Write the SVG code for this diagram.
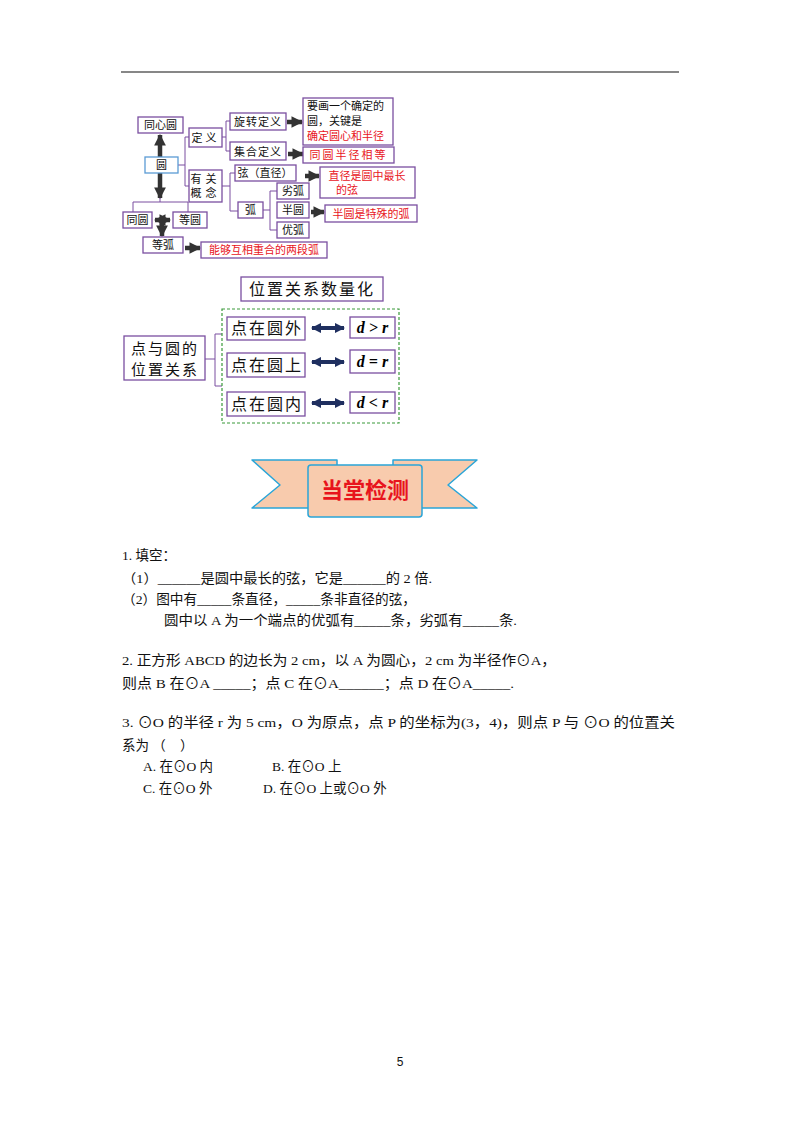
<svg xmlns="http://www.w3.org/2000/svg" width="800" height="1132" viewBox="0 0 800 1132">
<defs>
<marker id="ah" viewBox="0 0 10 10" refX="9" refY="5" markerWidth="2.6" markerHeight="2.6" orient="auto-start-reverse"><path d="M0,0 L10,5 L0,10 z" fill="#333"/></marker>
<marker id="nv" viewBox="0 0 10 10" refX="9" refY="5" markerWidth="2.6" markerHeight="2.6" orient="auto-start-reverse"><path d="M0,0 L10,5 L0,10 z" fill="#1f2f5f"/></marker>
<style>
.b{fill:#fff;stroke:#7a4fa0;stroke-width:1.3}
.t{font-family:"Noto Sans CJK SC",sans-serif;font-size:11px;fill:#111}
.r{fill:#e8141c}
.a{stroke:#333;stroke-width:4.5;fill:none;marker-end:url(#ah)}
.br{stroke:#7a4fa0;stroke-width:1;fill:none}
.big{font-family:"Noto Sans CJK SC",sans-serif;font-size:16px;fill:#111;letter-spacing:2px}
.nav{stroke:#1f2f5f;stroke-width:4;fill:none;marker-start:url(#nv);marker-end:url(#nv)}
.m{font-family:"Liberation Serif",serif;font-style:italic;font-weight:bold;font-size:16px}
.p{font-family:"Liberation Serif","Noto Sans CJK SC",serif;font-size:13.5px;fill:#111}
</style>
</defs>
<line x1="121" y1="72" x2="679" y2="72" stroke="#111" stroke-width="1.2"/>
<g id="connectors">
<path class="a" d="M160,157 V135"/>
<path class="a" d="M160,173 V198"/>
<path class="br" d="M178,165 H185 M185,137 V186 M185,137 H189 M185,186 H189"/>
<path class="br" d="M222,137 H226 M226,121 V151 M226,121 H230 M226,151 H230"/>
<path class="br" d="M222,186 H230 M230,173 V211 M230,173 H235 M230,211 H238"/>
<path class="br" d="M263,210 H270 M270,191 V230 M270,191 H277 M270,230 H277"/>
<path class="br" d="M133,212 V202 H188 V212 M160,198 V202"/>
<path class="a" d="M287,122 H302"/>
<path class="a" d="M288,154 H303"/>
<path class="a" d="M305,176 H319"/>
<path class="a" d="M311,212 H324"/>
<path class="a" d="M185,248 H200"/>
<path class="a" d="M155,220 H170" style="marker-start:url(#ah)"/>
<path class="a" d="M162,221 V236"/>
<path class="br" d="M205,359 H215 M215,334 V386 M215,334 H222 M215,386 H222"/>
<path class="nav" d="M312,328 H344"/>
<path class="nav" d="M312,362 H344"/>
<path class="nav" d="M312,403 H344"/>
</g>
<g id="n-txy"><rect class="b" x="138" y="117" width="45" height="16"/><text class="t" x="160.5" y="129" text-anchor="middle">同心圆</text></g>
<g id="n-yuan"><rect x="145" y="157" width="33" height="16" fill="#fff" stroke="#5b9bd5" stroke-width="1.3"/><text class="t" x="161.5" y="169" text-anchor="middle">圆</text></g>
<g id="n-dy"><rect class="b" x="189" y="128" width="33" height="19"/><text class="t" x="205.5" y="141.5" text-anchor="middle" letter-spacing="3">定义</text></g>
<g id="n-ygn"><rect class="b" x="189" y="170" width="33" height="32"/><text class="t" x="205.5" y="183" text-anchor="middle" letter-spacing="4">有关</text><text class="t" x="205.5" y="197" text-anchor="middle" letter-spacing="4">概念</text></g>
<g id="n-xz"><rect class="b" x="230" y="113" width="56" height="17"/><text class="t" x="258" y="126" text-anchor="middle" letter-spacing="1">旋转定义</text></g>
<g id="n-jh"><rect class="b" x="230" y="142" width="56" height="18"/><text class="t" x="258" y="155.5" text-anchor="middle" letter-spacing="1">集合定义</text></g>
<g id="n-yh"><rect class="b" x="303" y="98" width="90" height="47"/><text class="t" x="307" y="110">要画一个确定的</text><text class="t" x="307" y="125">圆，关键是</text><text class="t r" x="307" y="140">确定圆心和半径</text></g>
<g id="n-ty"><rect class="b" x="303" y="147" width="91" height="16"/><text class="t r" x="348.5" y="159" text-anchor="middle" letter-spacing="2">同圆半径相等</text></g>
<g id="n-xian"><rect class="b" x="235" y="165" width="61" height="16"/><text class="t" x="265" y="177" text-anchor="middle">弦（直径）</text></g>
<g id="n-zj"><rect class="b" x="320" y="167" width="95" height="31"/><text class="t r" x="367" y="180" text-anchor="middle">直径是圆中最长</text><text class="t r" x="336" y="194">的弦</text></g>
<g id="n-hu"><rect class="b" x="238" y="202" width="25" height="16"/><text class="t" x="250.5" y="214" text-anchor="middle">弧</text></g>
<g id="n-lh"><rect class="b" x="277" y="183" width="32" height="16"/><text class="t" x="293" y="195" text-anchor="middle">劣弧</text></g>
<g id="n-by"><rect class="b" x="277" y="202" width="32" height="16"/><text class="t" x="293" y="214" text-anchor="middle">半圆</text></g>
<g id="n-yhu"><rect class="b" x="277" y="222" width="32" height="16"/><text class="t" x="293" y="234" text-anchor="middle">优弧</text></g>
<g id="n-bys"><rect class="b" x="325" y="205" width="92" height="17"/><text class="t r" x="371" y="217.5" text-anchor="middle">半圆是特殊的弧</text></g>
<g id="n-ty2"><rect class="b" x="123" y="212" width="29" height="16"/><text class="t" x="137.5" y="224" text-anchor="middle">同圆</text></g>
<g id="n-dy2"><rect class="b" x="173" y="212" width="34" height="16"/><text class="t" x="190" y="224" text-anchor="middle">等圆</text></g>
<g id="n-dh"><rect class="b" x="143" y="237" width="40" height="16"/><text class="t" x="163" y="249" text-anchor="middle">等弧</text></g>
<g id="n-ng"><rect class="b" x="201" y="242" width="126" height="16"/><text class="t r" x="264" y="254" text-anchor="middle">能够互相重合的两段弧</text></g>
<g id="n-wz"><rect class="b" x="241" y="277" width="142" height="24"/><text class="big" x="312" y="295" text-anchor="middle">位置关系数量化</text></g>
<rect x="222" y="309" width="177" height="114" fill="none" stroke="#3a9a3a" stroke-width="1.2" stroke-dasharray="3,2"/>
<g id="n-dyy"><rect class="b" x="124" y="336" width="81" height="44"/><text class="big" style="font-size:15px" x="165" y="354" text-anchor="middle">点与圆的</text><text class="big" style="font-size:15px" x="165" y="375" text-anchor="middle">位置关系</text></g>
<g id="n-w"><rect class="b" x="227" y="317" width="78" height="23"/><text class="big" x="267" y="334" text-anchor="middle">点在圆外</text></g>
<g id="n-s"><rect class="b" x="227" y="353" width="78" height="24"/><text class="big" x="267" y="371" text-anchor="middle">点在圆上</text></g>
<g id="n-n"><rect class="b" x="227" y="392" width="78" height="24"/><text class="big" x="267" y="410" text-anchor="middle">点在圆内</text></g>
<g id="n-gt"><rect class="b" x="350" y="317" width="45" height="21"/><text class="m" x="372.5" y="333" text-anchor="middle">d &gt; r</text></g>
<g id="n-eq"><rect class="b" x="350" y="350" width="45" height="23"/><text class="m" x="372.5" y="367" text-anchor="middle">d = r</text></g>
<g id="n-lt"><rect class="b" x="350" y="392" width="45" height="21"/><text class="m" x="372.5" y="408" text-anchor="middle">d &lt; r</text></g>
<g id="banner" stroke="#2aa5d8" stroke-width="1.5" fill="#f8cbad" stroke-linejoin="round">
<polygon points="252,460 337,460 337,508 252,508 280,485"/>
<polygon points="393,460 477,460 448,485 477,508 393,508"/>
<rect x="308" y="465" width="114" height="52" rx="3"/>
<text x="365" y="498" text-anchor="middle" font-family="Noto Sans CJK SC,sans-serif" font-weight="bold" font-size="22" fill="#e8141c" stroke="none">当堂检测</text>
</g>
<g id="text">
<text class="p" x="122" y="560">1. 填空：</text>
<text class="p" x="122" y="583" textLength="310" lengthAdjust="spacingAndGlyphs">（1）______是圆中最长的弦，它是______的 2 倍.</text>
<text class="p" x="122" y="604" textLength="294" lengthAdjust="spacingAndGlyphs">（2）图中有_____条直径，_____条非直径的弦，</text>
<text class="p" x="164" y="625" textLength="353" lengthAdjust="spacingAndGlyphs">圆中以 A 为一个端点的优弧有_____条，劣弧有_____条.</text>
<text class="p" x="122" y="665" textLength="434" lengthAdjust="spacingAndGlyphs">2. 正方形 ABCD 的边长为 2 cm，以 A 为圆心，2 cm 为半径作⊙A，</text>
<text class="p" x="122" y="688" textLength="392" lengthAdjust="spacingAndGlyphs">则点 B 在⊙A _____；点 C 在⊙A______；点 D 在⊙A_____.</text>
<text class="p" x="122" y="727" textLength="553" lengthAdjust="spacingAndGlyphs">3. ⊙O 的半径 r 为 5 cm，O 为原点，点 P 的坐标为(3，4)，则点 P 与 ⊙O 的位置关</text>
<text class="p" x="122" y="750">系为 （</text><text class="p" x="180" y="750">）</text>
<text class="p" x="143" y="771">A. 在⊙O 内</text>
<text class="p" x="272" y="771">B. 在⊙O 上</text>
<text class="p" x="143" y="793">C. 在⊙O 外</text>
<text class="p" x="263" y="793">D. 在⊙O 上或⊙O 外</text>
<text x="400" y="1066" text-anchor="middle" font-family="Liberation Sans,sans-serif" font-size="12" fill="#111">5</text>
</g>
</svg>
